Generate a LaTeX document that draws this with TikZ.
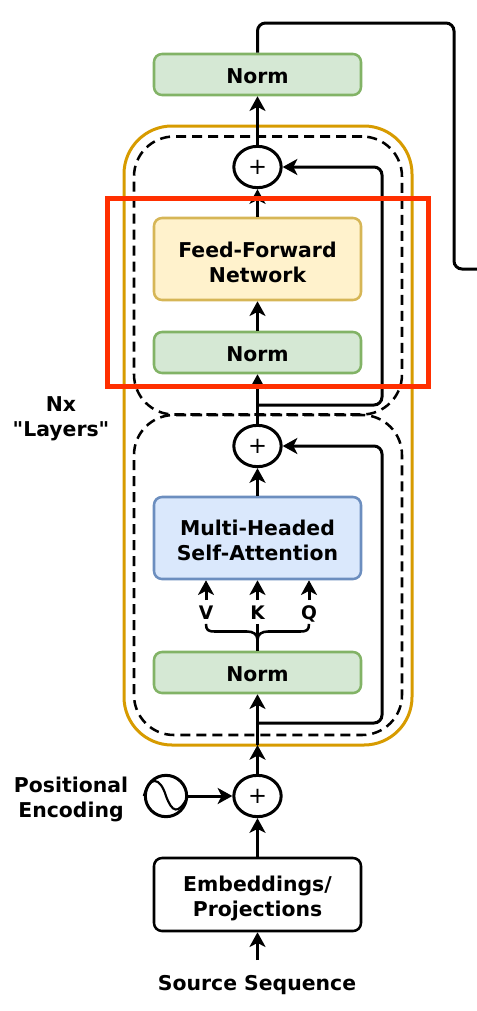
\documentclass[tikz,border=0pt]{standalone}
\usepackage{fontspec}
\setmainfont{DejaVu Sans}
\newfontfamily\straightquotes{DejaVu Sans}
\usepackage{tikz}
\usetikzlibrary{arrows.meta, shapes.geometric}

\definecolor{NormFill}{HTML}{D5E8D4}
\definecolor{NormEdge}{HTML}{82B366}
\definecolor{FeedFill}{HTML}{FFF2CC}
\definecolor{FeedEdge}{HTML}{D6B656}
\definecolor{AttnFill}{HTML}{DAE8FC}
\definecolor{AttnEdge}{HTML}{6C8EBF}
\definecolor{LayerEdge}{HTML}{D79B00}
\definecolor{FocusEdge}{HTML}{FF2F00}

\tikzset{
  flow/.style={line width=2.25pt, -{Stealth[length=11pt, width=12pt, inset=3pt]}},
  wire/.style={line width=2.25pt},
  block/.style={draw, rectangle, rounded corners=6pt, line width=1.9pt, minimum width=155.25pt,
    align=center, execute at begin node={\rule{0pt}{13.5pt}}, font=\fontsize{15.3}{18.8}\selectfont\bfseries},
  normblock/.style={block, fill=NormFill, draw=NormEdge, minimum height=30.75pt},
  plusnode/.style={draw, ellipse, fill=white, line width=2.25pt, inner sep=0pt,
    minimum width=35.5pt, minimum height=31pt, font=\fontsize{17}{18}\selectfont},
  caption/.style={align=center, font=\fontsize{15.3}{18.8}\selectfont\bfseries},
  keylabel/.style={inner sep=3.5pt, text height=10.5pt, text depth=0pt, font=\fontsize{14}{15}\selectfont\bfseries},
  layerbound/.style={draw, rectangle, dash pattern=on 7.5pt off 4.5pt, line width=1.9pt,
    rounded corners=30pt, minimum width=201pt},
}

\begin{document}
\begin{tikzpicture}[x=0.75pt, y=-0.75pt]
  \useasboundingbox (0,0) rectangle (477,1011);

  % Layer outlines
  \node[draw=LayerEdge, rectangle, line width=2.25pt, rounded corners=36pt,
    minimum width=216pt, minimum height=464.25pt] (stack) at (268,435.5) {};
  \node[layerbound, minimum height=208.5pt] (layerone) at (268,275.5) {};
  \node[layerbound, minimum height=240pt] (layertwo) at (268,575) {};

  % Blocks
  \node[normblock] (normtop) at (257.5,74.5) {Norm};
  \node[plusnode] (plusone) at (257.5,167) {+};
  \node[block, fill=FeedFill, draw=FeedEdge, minimum height=61.5pt] (feed) at (257.5,259) {\rule{0pt}{16.5pt}Feed-Forward\\Network};
  \node[normblock] (normone) at (257.5,352.5) {Norm};
  \node[plusnode] (plustwo) at (257.5,446) {+};
  \node[block, fill=AttnFill, draw=AttnEdge, minimum height=61.5pt] (attn) at (257.5,538) {\rule{0pt}{15pt}Multi-Headed\\Self-Attention};
  \node[normblock] (normtwo) at (257.5,672.5) {Norm};
  \node[plusnode] (plusenc) at (257.5,796) {+};
  \node[block, draw=black, minimum height=54.75pt] (embed) at (257.5,894.5) {\rule{0pt}{18pt}Embeddings/\\Projections};
  \node[draw, circle, line width=2.25pt, minimum size=31pt, inner sep=0pt] (sine) at (166,796) {};

  % Labels
  \node[caption] (source) at (257,985) {Source Sequence};
  \node[caption] (posenc) at (71,799.5) {Positional\\Encoding};
  \node[caption] (nx) at (61,418.5) {Nx\\{\straightquotes\bfseries"Layers"}};
  \node[keylabel] (keyv) at (206,612) {V};
  \node[keylabel] (keyk) at (257.5,612) {K};
  \node[keylabel] (keyq) at (309,612) {Q};

  % Sine wave
  \draw[line width=1.6pt] (sine.west) .. controls (149,776) and (160,776) .. (sine.center)
    .. controls (172,812) and (178,816) .. (sine.east);

  % Main path
  \coordinate (source arrow) at (257.5,960);
  \coordinate (stack base) at (257.5,745);
  \draw[flow] (source arrow) -- (embed.south);
  \draw[flow] (embed.north) -- (plusenc.south);
  \draw[flow] (sine.east) -- (plusenc.west);
  \draw[flow] (plusenc.north) -- (stack base);
  \draw[flow] (stack base) -- (normtwo.south);
  \draw[flow] (attn.north) -- (plustwo.south);
  \draw[flow] (plustwo.north) -- (normone.south);
  \draw[flow] (normone.north) -- (feed.south);
  \draw[flow] (feed.north) -- (plusone.south);
  \draw[flow] (plusone.north) -- (normtop.south);

  % Attention inputs
  \foreach \key in {keyv, keyk, keyq} {
    \draw[flow] (\key.north) -- (\key.north |- attn.south);
  }
  \draw[wire] (keyk.south) -- (normtwo.north);
  \coordinate (brace join) at (257.5,640);
  \draw[line width=1.9pt] (keyv.south) .. controls (206,630) and (208,631.5) .. (215,631.5)
    -- (247,631.5) .. controls (253,631.5) and (257.5,634) .. (brace join);
  \draw[line width=1.9pt] (keyq.south) .. controls (309,630) and (307,631.5) .. (300,631.5)
    -- (268,631.5) .. controls (262,631.5) and (257.5,634) .. (brace join);

  % Skip connections
  \coordinate (skipone) at (257.5,405);
  \coordinate (skipone low) at (382,405);
  \coordinate (skipone high) at (382,167);
  \draw[flow, rounded corners=6pt] (skipone) -- (skipone low) -- (skipone high) -- (plusone.east);
  \coordinate (skiptwo) at (257.5,723);
  \coordinate (skiptwo low) at (382,723);
  \coordinate (skiptwo high) at (382,446);
  \draw[flow, rounded corners=6pt] (skiptwo) -- (skiptwo low) -- (skiptwo high) -- (plustwo.east);

  % Output line
  \coordinate (out up) at (257.5,23);
  \coordinate (out over) at (454,23);
  \coordinate (out down) at (454,269);
  \coordinate (out edge) at (477,269);
  \draw[wire, rounded corners=6pt] (normtop.north) -- (out up) -- (out over) -- (out down) -- (out edge);

  % Highlight
  \node[draw=FocusEdge, rectangle, line width=3.75pt, minimum width=240.75pt, minimum height=141pt] (focus) at (267.5,292) {};
\end{tikzpicture}
\end{document}
